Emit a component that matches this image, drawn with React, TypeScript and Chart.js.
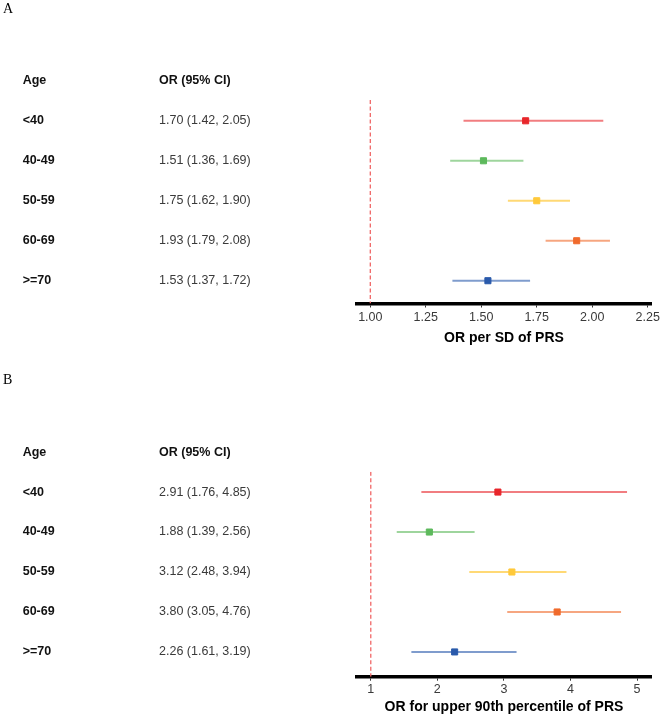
import React, { useEffect, useRef } from "react";
import { Chart, registerables } from "chart.js";

Chart.register(...registerables);

// ---------- data ----------
const ageGroups = ["<40", "40-49", "50-59", "60-69", ">=70"];

const orPerSD = [1.7, 1.51, 1.75, 1.93, 1.53];
const lowerPerSD = [1.42, 1.36, 1.62, 1.79, 1.37];
const upperPerSD = [2.05, 1.69, 1.9, 2.08, 1.72];

const orTop90 = [2.91, 1.88, 3.12, 3.8, 2.26];
const lowerTop90 = [1.76, 1.39, 2.48, 3.05, 1.61];
const upperTop90 = [4.85, 2.56, 3.94, 4.76, 3.19];

const ticksPerSD = [1.0, 1.25, 1.5, 1.75, 2.0, 2.25];
const ticksTop90 = [1, 2, 3, 4, 5];

const markerColors = ["#E8262B", "#5DB95C", "#FFC93A", "#F06A2C", "#2A5AAB"];
const lineColors = [
  "rgba(232,38,43,0.6)",
  "rgba(93,185,92,0.6)",
  "rgba(255,201,58,0.7)",
  "rgba(240,106,44,0.6)",
  "rgba(42,90,171,0.6)",
];

const SANS = '"Liberation Sans", Arial, Helvetica, sans-serif';
const SERIF = '"Liberation Serif", "Times New Roman", serif';

type PanelSpec = {
  letter: string;
  or: number[];
  lo: number[];
  hi: number[];
  ticks: number[];
  decimals: number;
  xMin: number;
  xMax: number;
  yMin: number;
  yMax: number;
  title: string;
  top: number;
  padTop: number;
  padBottom: number;
  tickPad: number;
  titlePadTop: number;
};

const panels: PanelSpec[] = [
  {
    letter: "A",
    or: orPerSD,
    lo: lowerPerSD,
    hi: upperPerSD,
    ticks: ticksPerSD,
    decimals: 2,
    xMin: 0.94,
    xMax: 2.265,
    yMin: -0.52,
    yMax: 4.57,
    title: "OR per SD of PRS",
    top: 0,
    padTop: 100,
    padBottom: 2.6,
    tickPad: 2.7,
    titlePadTop: 1.7,
  },
  {
    letter: "B",
    or: orTop90,
    lo: lowerTop90,
    hi: upperTop90,
    ticks: ticksTop90,
    decimals: 0,
    xMin: 0.793,
    xMax: 5.21,
    yMin: -0.51,
    yMax: 4.62,
    title: "OR for upper 90th percentile of PRS",
    top: 371,
    padTop: 100.7,
    padBottom: 4.9,
    tickPad: 1.0,
    titlePadTop: 0.6,
  },
];

function makeTablePlugin(p: PanelSpec) {
  return {
    id: "forestTable" + p.letter,
    afterDraw(chart: any) {
      const ctx = chart.ctx as CanvasRenderingContext2D;
      const y = chart.scales.y;
      ctx.save();
      ctx.textAlign = "left";
      ctx.textBaseline = "middle";
      ctx.fillStyle = "#000";
      ctx.font = `14px ${SERIF}`;
      ctx.fillText(p.letter, 3, 9.5);

      const hy = y.getPixelForValue(-1);
      ctx.font = `bold 12.5px ${SANS}`;
      ctx.fillStyle = "#111";
      ctx.fillText("Age", 22.7, hy);
      ctx.fillText("OR (95% CI)", 159, hy);

      ageGroups.forEach((g, i) => {
        const py = y.getPixelForValue(i);
        ctx.font = `bold 12.5px ${SANS}`;
        ctx.fillStyle = "#111";
        ctx.fillText(g, 22.7, py);
        ctx.font = `12.5px ${SANS}`;
        ctx.fillStyle = "#3a3a3a";
        ctx.fillText(
          `${p.or[i].toFixed(2)} (${p.lo[i].toFixed(2)}, ${p.hi[i].toFixed(2)})`,
          159,
          py
        );
      });
      ctx.restore();
    },
  };
}

function Panel({ spec }: { spec: PanelSpec }) {
  const ref = useRef<HTMLCanvasElement | null>(null);
  useEffect(() => {
    if (!ref.current) return;
    const datasets: any[] = [];
    datasets.push({
      label: "OR",
      data: spec.or.map((v, i) => ({ x: v, y: i })),
      pointStyle: "rect",
      pointRadius: 4.3,
      pointBorderWidth: 1,
      pointBackgroundColor: markerColors,
      pointBorderColor: markerColors,
      showLine: false,
      order: 0,
    });
    spec.lo.forEach((lo, i) => {
      datasets.push({
        label: "CI " + ageGroups[i],
        data: [
          { x: lo, y: i },
          { x: spec.hi[i], y: i },
        ],
        showLine: true,
        borderColor: lineColors[i],
        borderWidth: 2,
        pointRadius: 0,
        order: 1,
      });
    });
    datasets.push({
      label: "ref",
      data: [
        { x: 1, y: spec.yMin },
        { x: 1, y: spec.yMax },
      ],
      showLine: true,
      borderColor: "#F06666",
      borderWidth: 1.3,
      borderDash: [4, 2.5],
      pointRadius: 0,
      order: 2,
    });

    const chart = new Chart(ref.current, {
      type: "scatter",
      data: { datasets },
      options: {
        animation: false,
        responsive: false,
        events: [],
        layout: {
          padding: { left: 357, right: 12, top: spec.padTop, bottom: spec.padBottom },
        },
        plugins: {
          legend: { display: false },
          tooltip: { enabled: false },
        },
        scales: {
          x: {
            type: "linear",
            position: "bottom",
            min: spec.xMin,
            max: spec.xMax,
            afterBuildTicks: (axis: any) => {
              axis.ticks = spec.ticks.map((v) => ({ value: v }));
            },
            ticks: {
              autoSkip: false,
              maxRotation: 0,
              padding: spec.tickPad,
              color: "#3a3a3a",
              font: { size: 12.5, family: SANS },
              callback: (v: any) => Number(v).toFixed(spec.decimals),
            },
            grid: {
              display: true,
              drawOnChartArea: false,
              drawTicks: true,
              tickLength: 4,
              color: "#333",
              lineWidth: 1,
            },
            border: { display: true, color: "#000", width: 3.5 },
            title: {
              display: true,
              text: spec.title,
              color: "#000",
              font: { size: 14, weight: "bold", family: SANS },
              padding: { top: spec.titlePadTop, bottom: 0 },
            },
          },
          y: {
            type: "linear",
            display: false,
            reverse: true,
            min: spec.yMin,
            max: spec.yMax,
          },
        },
      } as any,
      plugins: [makeTablePlugin(spec)],
    });
    return () => chart.destroy();
  }, [spec]);
  return (
    <canvas
      ref={ref}
      width={663}
      height={349}
      style={{ position: "absolute", left: 0, top: spec.top, width: 663, height: 349 }}
    />
  );
}

export default function App() {
  return (
    <div
      style={{
        position: "absolute",
        left: 0,
        top: 0,
        width: 663,
        height: 720,
        background: "#fff",
      }}
    >
      <Panel spec={panels[0]} />
      <Panel spec={panels[1]} />
    </div>
  );
}
